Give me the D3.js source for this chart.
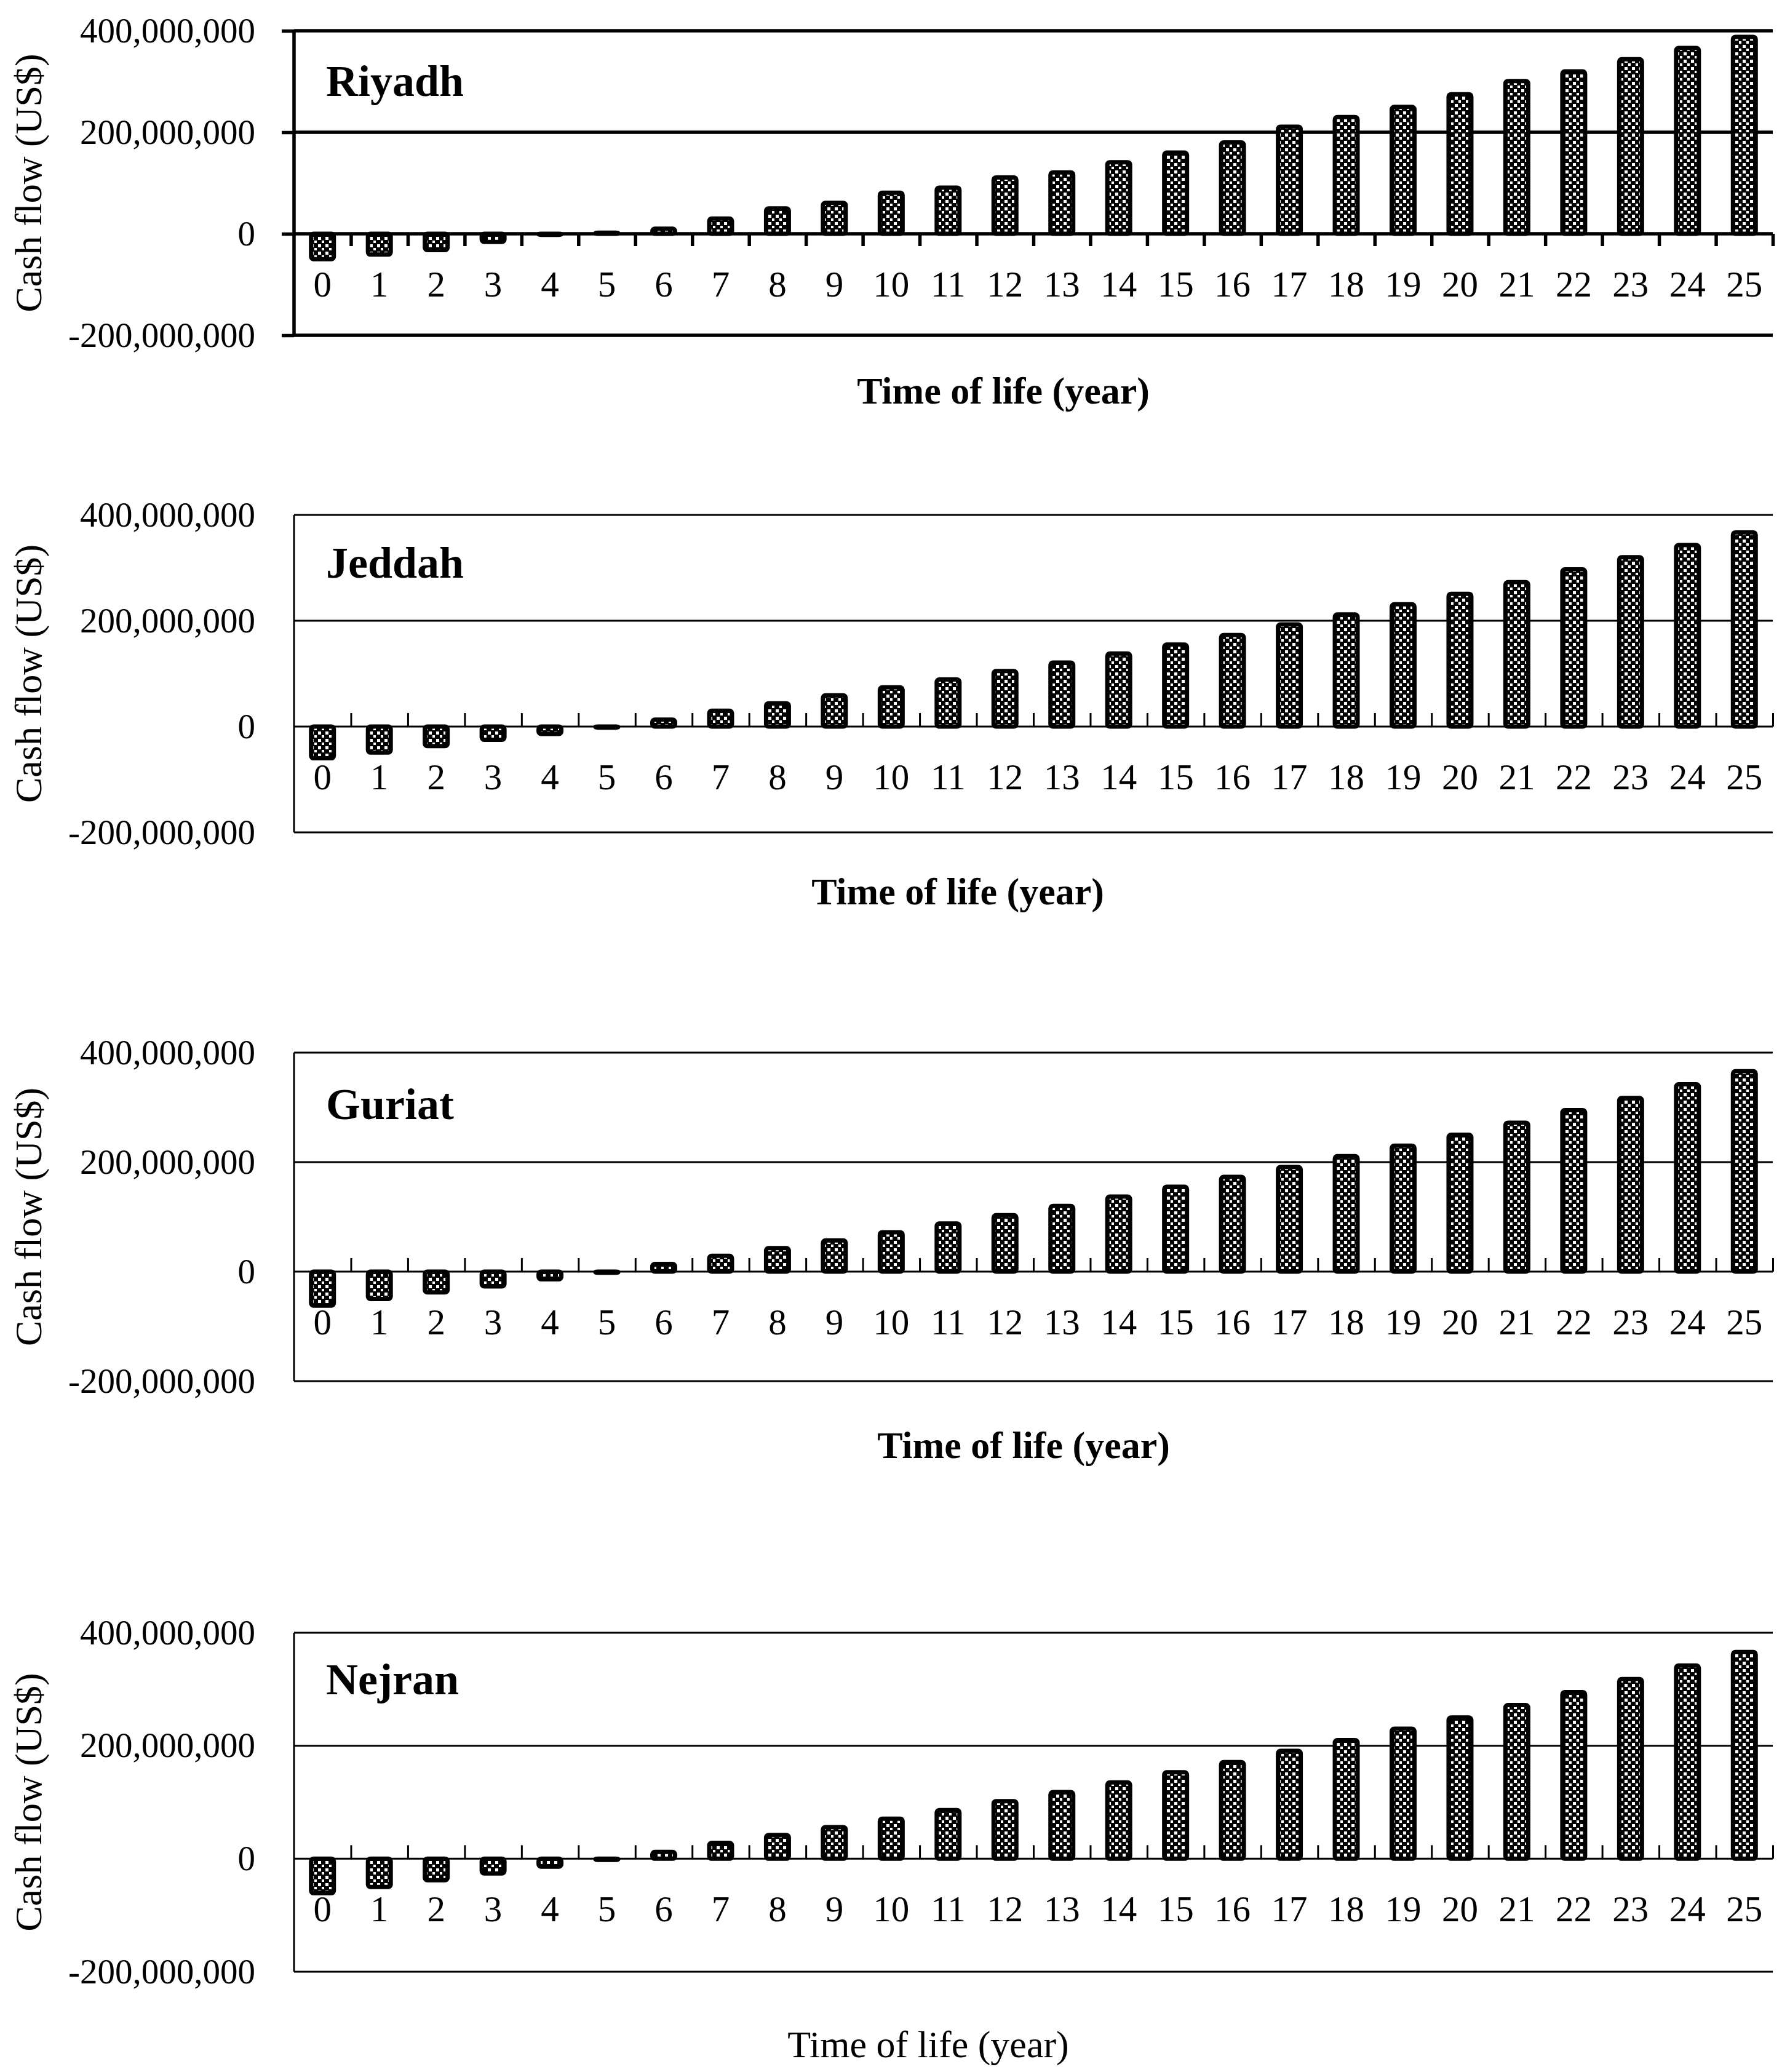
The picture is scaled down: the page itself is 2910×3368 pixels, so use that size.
<!DOCTYPE html>
<html>
<head>
<meta charset="utf-8">
<script src="https://cdn.jsdelivr.net/npm/d3@7"></script>
<style>
  body { margin: 0; background: #fff; }
  text { font-family: "Liberation Serif", "Times New Roman", serif; fill: #000; }
</style>
</head>
<body>
<svg id="chart" width="2910" height="3368"></svg>
<script>
// cash flow per year, in millions of US$
const years = [0,1,2,3,4,5,6,7,8,9,10,11,12,13,14,15,16,17,18,19,20,21,22,23,24,25];
const riyadh = [-50,-41,-32,-16,-2,2,10,30,50,61,81,91,111,121,141,160,180,211,230,250,275,301,320,344,366,388];
const jeddah = [-60,-49,-37,-25,-14,-2,13,30,44,59,74,89,105,121,138,155,173,193,212,231,251,273,297,320,343,367];
const guriat = [-62,-50,-38,-27,-14,-2,14,29,43,57,72,88,103,120,137,155,173,191,211,230,250,272,295,317,342,366];
const nejran = [-61,-50,-38,-26,-14,-2,12,28,42,56,71,86,102,118,135,153,171,191,210,230,250,272,295,318,342,366];

const yTicks = [-200000000, 0, 200000000, 400000000];
const gridLines = [-200000000, 200000000, 400000000];
const xTitle = "Time of life (year)";
const yTitle = "Cash flow (US$)";

const left = 478, right = 2882;

const panels = [
    {name: "Riyadh", values: riyadh, top: 50,   bottom: 545,  heavy: true,  nameY: 156,  titleX: 1631, titleY: 656,  titleBold: true},
    {name: "Jeddah", values: jeddah, top: 837,  bottom: 1353, heavy: false, nameY: 939,  titleX: 1557, titleY: 1470, titleBold: true},
    {name: "Guriat", values: guriat, top: 1711, bottom: 2245, heavy: false, nameY: 1819, titleX: 1664, titleY: 2370, titleBold: true},
    {name: "Nejran", values: nejran, top: 2654, bottom: 3205, heavy: false, nameY: 2754, titleX: 1509, titleY: 3344, titleBold: false}
];

const svg = d3.select("#chart");
svg.append("rect").attr("width", 2910).attr("height", 3368).attr("fill", "#fff");

// checkered fill used inside the bars
const pat = svg.append("defs").append("pattern")
    .attr("id", "checks")
    .attr("patternUnits", "userSpaceOnUse")
    .attr("width", 12).attr("height", 12);
pat.append("rect").attr("width", 12).attr("height", 12).attr("fill", "#000");
pat.append("rect").attr("x", 1).attr("y", 1).attr("width", 5).attr("height", 5).attr("fill", "#fff");
pat.append("rect").attr("x", 7).attr("y", 7).attr("width", 4).attr("height", 4).attr("fill", "#fff");

const fmt = d3.formatLocale({decimal: ".", thousands: ",", grouping: [3], currency: ["$", ""], minus: "-"}).format(",");

const x = d3.scaleBand()
    .domain(years)
    .range([left, right])
    .paddingInner(0.6)
    .paddingOuter(0.3);

// boundaries between the year categories, for the tick marks
const xEdges = d3.scaleLinear().domain([0, years.length]).range([left, right]);

panels.forEach(function(p){
    const lw = p.heavy ? 5.5 : 3;
    const y = d3.scaleLinear().domain([-200000000, 400000000]).range([p.bottom, p.top]);
    const g = svg.append("g");

    // horizontal grid lines at 400M, 200M and -200M
    g.append("g").selectAll("line")
        .data(gridLines)
        .enter()
        .append("line")
            .attr("x1", left).attr("x2", right)
            .attr("y1", function(d){ return y(d); })
            .attr("y2", function(d){ return y(d); })
            .attr("stroke", "#000")
            .attr("stroke-width", lw);

    // y axis labels
    const yAxis = g.append("g")
        .attr("transform", `translate(${left},0)`)
        .call(d3.axisLeft(y)
            .tickValues(yTicks)
            .tickFormat(fmt)
            .tickSize(p.heavy ? 20 : 0)
            .tickPadding(p.heavy ? 43 : 63));
    yAxis.select(".domain").remove();
    yAxis.selectAll("line").attr("stroke", "#000").attr("stroke-width", lw);
    yAxis.selectAll("text")
        .attr("font-family", "Liberation Serif")
        .attr("font-size", 57)
        .attr("fill", "#000");

    // left axis line
    g.append("line")
        .attr("x1", left).attr("x2", left)
        .attr("y1", p.top).attr("y2", p.bottom)
        .attr("stroke", "#000")
        .attr("stroke-width", lw);

    // zero line
    g.append("line")
        .attr("x1", left).attr("x2", right)
        .attr("y1", y(0)).attr("y2", y(0))
        .attr("stroke", "#000")
        .attr("stroke-width", lw);

    // tick marks between categories
    const tickAxis = g.append("g")
        .attr("transform", `translate(0,${y(0)})`)
        .call(d3.axisBottom(xEdges)
            .tickValues(d3.range(1, years.length + 1))
            .tickFormat("")
            .tickSize(p.heavy ? 20 : -22));
    tickAxis.select(".domain").remove();
    tickAxis.selectAll("line").attr("stroke", "#000").attr("stroke-width", lw);

    // bars
    g.append("g").selectAll("rect")
        .data(p.values)
        .enter()
        .append("rect")
            .attr("x", function(d, i){ return x(years[i]); })
            .attr("width", x.bandwidth())
            .attr("y", function(d){ return Math.min(y(d * 1e6), y(0)); })
            .attr("height", function(d){ return Math.abs(y(d * 1e6) - y(0)); })
            .attr("rx", 4)
            .attr("fill", "url(#checks)")
            .attr("stroke", "#000")
            .attr("stroke-width", 7);

    // year labels
    const xAxis = g.append("g")
        .attr("transform", `translate(0,${y(0)})`)
        .call(d3.axisBottom(x).tickSize(0));
    xAxis.select(".domain").remove();
    xAxis.selectAll("text")
        .attr("dy", null)
        .attr("y", 102)
        .attr("font-family", "Liberation Serif")
        .attr("font-size", 59)
        .attr("fill", "#000");

    // city name
    g.append("text")
        .attr("x", 530)
        .attr("y", p.nameY)
        .attr("font-size", 72)
        .attr("font-weight", "bold")
        .text(p.name);

    // axis titles
    g.append("text")
        .attr("x", p.titleX)
        .attr("y", p.titleY)
        .attr("text-anchor", "middle")
        .attr("font-size", 62)
        .attr("font-weight", p.titleBold ? "bold" : "normal")
        .text(xTitle);

    g.append("text")
        .attr("transform", `translate(67,${(p.top + p.bottom) / 2}) rotate(-90)`)
        .attr("text-anchor", "middle")
        .attr("font-size", 62)
        .text(yTitle);
});
</script>
</body>
</html>
